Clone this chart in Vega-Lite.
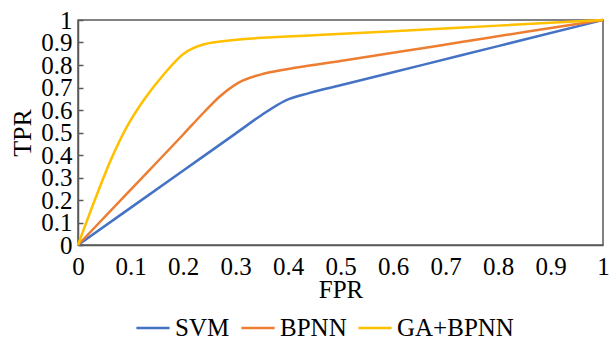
{
  "$schema": "https://vega.github.io/schema/vega-lite/v6.json",
  "width": 525,
  "height": 225,
  "autosize": {"type": "none"},
  "padding": {"left": 78, "top": 20, "right": 7, "bottom": 102},
  "background": "white",
  "config": {
    "view": {"stroke": "#595959", "strokeWidth": 1.5}
  },
  "data": {
    "values": [
      {"model": "SVM", "fpr": 0, "tpr": 0},
      {"model": "SVM", "fpr": 0.1, "tpr": 0.165},
      {"model": "SVM", "fpr": 0.2, "tpr": 0.33},
      {"model": "SVM", "fpr": 0.3, "tpr": 0.495},
      {"model": "SVM", "fpr": 0.35, "tpr": 0.578},
      {"model": "SVM", "fpr": 0.395, "tpr": 0.642},
      {"model": "SVM", "fpr": 0.44, "tpr": 0.675},
      {"model": "SVM", "fpr": 0.5, "tpr": 0.71},
      {"model": "SVM", "fpr": 0.6, "tpr": 0.768},
      {"model": "SVM", "fpr": 0.73, "tpr": 0.843},
      {"model": "SVM", "fpr": 0.86, "tpr": 0.919},
      {"model": "SVM", "fpr": 1, "tpr": 1},
      {"model": "BPNN", "fpr": 0, "tpr": 0},
      {"model": "BPNN", "fpr": 0.1, "tpr": 0.245},
      {"model": "BPNN", "fpr": 0.2, "tpr": 0.49},
      {"model": "BPNN", "fpr": 0.24, "tpr": 0.59},
      {"model": "BPNN", "fpr": 0.27, "tpr": 0.66},
      {"model": "BPNN", "fpr": 0.306, "tpr": 0.722},
      {"model": "BPNN", "fpr": 0.357, "tpr": 0.763},
      {"model": "BPNN", "fpr": 0.42, "tpr": 0.79},
      {"model": "BPNN", "fpr": 0.5, "tpr": 0.818},
      {"model": "BPNN", "fpr": 0.6, "tpr": 0.854},
      {"model": "BPNN", "fpr": 0.73, "tpr": 0.902},
      {"model": "BPNN", "fpr": 0.86, "tpr": 0.95},
      {"model": "BPNN", "fpr": 1, "tpr": 1},
      {"model": "GA+BPNN", "fpr": 0, "tpr": 0},
      {"model": "GA+BPNN", "fpr": 0.032, "tpr": 0.2},
      {"model": "GA+BPNN", "fpr": 0.062, "tpr": 0.375},
      {"model": "GA+BPNN", "fpr": 0.093, "tpr": 0.525},
      {"model": "GA+BPNN", "fpr": 0.127, "tpr": 0.65},
      {"model": "GA+BPNN", "fpr": 0.164, "tpr": 0.76},
      {"model": "GA+BPNN", "fpr": 0.2, "tpr": 0.848},
      {"model": "GA+BPNN", "fpr": 0.24, "tpr": 0.892},
      {"model": "GA+BPNN", "fpr": 0.293, "tpr": 0.91},
      {"model": "GA+BPNN", "fpr": 0.35, "tpr": 0.921},
      {"model": "GA+BPNN", "fpr": 0.457, "tpr": 0.933},
      {"model": "GA+BPNN", "fpr": 0.6, "tpr": 0.95},
      {"model": "GA+BPNN", "fpr": 0.8, "tpr": 0.975},
      {"model": "GA+BPNN", "fpr": 1, "tpr": 1}
    ]
  },
  "mark": {"type": "line", "strokeWidth": 2.5, "interpolate": "monotone"},
  "encoding": {
    "x": {
      "field": "fpr",
      "type": "quantitative",
      "title": "FPR",
      "scale": {"domain": [0, 1], "nice": false},
      "axis": {
        "values": [0, 0.1, 0.2, 0.3, 0.4, 0.5, 0.6, 0.7, 0.8, 0.9, 1],
        "labelExpr": "datum.value == 0 ? '0' : datum.value == 1 ? '1' : datum.label",
        "grid": false,
        "ticks": false,
        "domainColor": "#595959",
        "domainWidth": 1.5,
        "labelFont": "Liberation Serif",
        "labelFontSize": 25,
        "labelColor": "#000000",
        "labelOverlap": false,
        "labelFlush": false,
        "labelPadding": 9,
        "titleFont": "Liberation Serif",
        "titleFontSize": 25,
        "titleFontWeight": "normal",
        "titleColor": "#000000",
        "titlePadding": -2
      }
    },
    "y": {
      "field": "tpr",
      "type": "quantitative",
      "title": "TPR",
      "scale": {"domain": [0, 1], "nice": false},
      "axis": {
        "values": [0, 0.1, 0.2, 0.3, 0.4, 0.5, 0.6, 0.7, 0.8, 0.9, 1],
        "labelExpr": "datum.value == 0 ? '0' : datum.value == 1 ? '1' : datum.label",
        "grid": false,
        "domainColor": "#595959",
        "domainWidth": 1.5,
        "tickColor": "#595959",
        "tickSize": -5,
        "tickWidth": 1.5,
        "labelFont": "Liberation Serif",
        "labelFontSize": 25,
        "labelColor": "#000000",
        "labelOverlap": false,
        "labelFlush": false,
        "labelPadding": 11,
        "titleFont": "Liberation Serif",
        "titleFontSize": 26,
        "titleFontWeight": "normal",
        "titleColor": "#000000",
        "titlePadding": 5
      }
    },
    "color": {
      "field": "model",
      "type": "nominal",
      "scale": {"domain": ["SVM", "BPNN", "GA+BPNN"], "range": ["#4472C4", "#ED7D31", "#FFC000"]},
      "legend": {
        "title": null,
        "orient": "none",
        "legendX": 57,
        "legendY": 290,
        "direction": "horizontal",
        "symbolType": "stroke",
        "symbolSize": 1100,
        "symbolStrokeWidth": 2.5,
        "labelFont": "Liberation Serif",
        "labelFontSize": 25,
        "labelColor": "#000000",
        "labelOffset": 4,
        "columnPadding": 6
      }
    }
  }
}
